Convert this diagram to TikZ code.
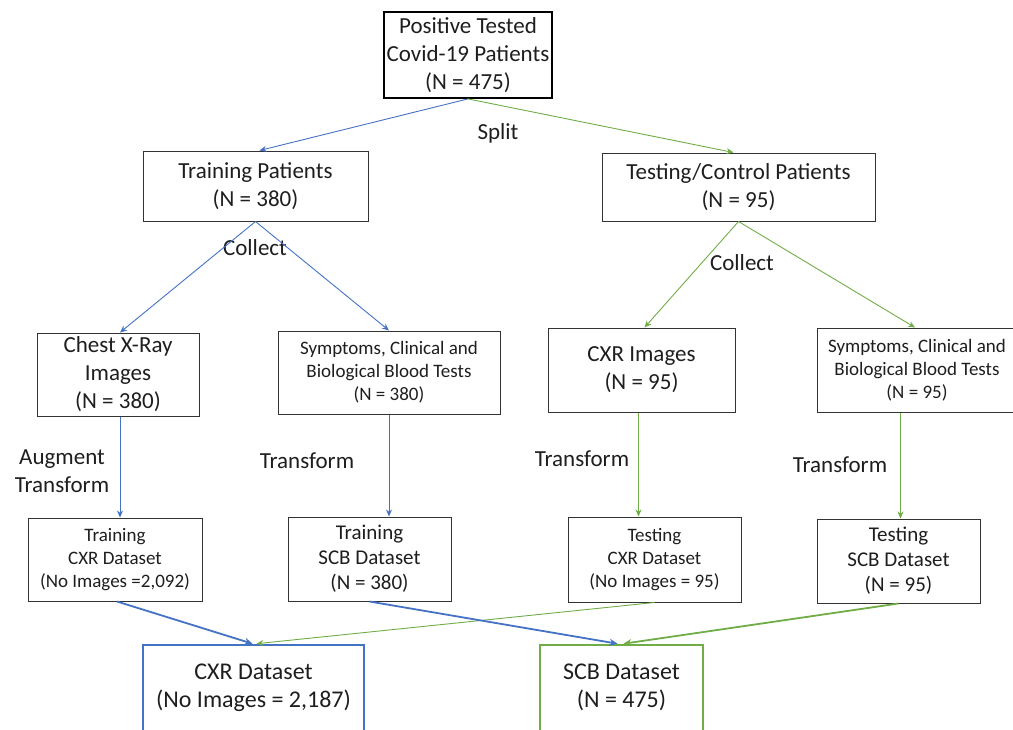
\documentclass[tikz,border=0pt]{standalone}
\usepackage{fontspec}
\setmainfont{Carlito}
\usetikzlibrary{positioning,arrows.meta}
\definecolor{flblue}{RGB}{68,114,196}
\definecolor{flgreen}{RGB}{112,173,71}
\definecolor{fltext}{RGB}{30,30,30}
\newcommand{\bigtxt}{\fontsize{23}{28}\selectfont}
\newcommand{\midtxt}{\fontsize{21}{25}\selectfont}
\newcommand{\smalltxt}{\fontsize{19}{23}\selectfont}

\tikzset{
  box/.style={draw=black!80, line width=1pt, align=center, inner sep=0pt, text=fltext},
  lbl/.style={align=center, text=fltext, font=\bigtxt},
  arr/.style={-{Stealth[length=7pt,width=6pt]}, line width=0.9pt},
  thickarr/.style={-{Stealth[length=8pt,width=7pt]}, line width=1.8pt}
}

\begin{document}
\begin{tikzpicture}[x=1pt,y=-1pt]
\useasboundingbox (0,0) rectangle (1013,729);

% Boxes
\node[box, line width=1.8pt, draw=black, minimum width=168pt, minimum height=86pt, font=\bigtxt] (patients) at (468,55) {Positive Tested\\Covid-19 Patients\\(N = 475)};
\node[box, minimum width=225pt, minimum height=70pt, font=\bigtxt] (train) at (255.5,186) {Training Patients\\(N = 380)};
\node[box, minimum width=273pt, minimum height=68pt, font=\bigtxt] (test) at (738.5,187) {Testing/Control Patients\\(N = 95)};

\node[box, minimum width=162pt, minimum height=83pt, font=\bigtxt] (xray) at (118,374.5) {Chest X-Ray\\Images\\(N = 380)};
\node[box, minimum width=222pt, minimum height=83pt, font=\smalltxt] (symtrain) at (389,372.5) {Symptoms, Clinical and\\Biological Blood Tests\\(N = 380)};
\node[box, minimum width=187pt, minimum height=84pt, font=\bigtxt] (cxrimg) at (641.5,370) {CXR Images\\(N = 95)};
\node[box, minimum width=200pt, minimum height=84pt, font=\smalltxt] (symtest) at (917,370) {Symptoms, Clinical and\\Biological Blood Tests\\(N = 95)};

\node[box, minimum width=174pt, minimum height=83pt, font=\smalltxt] (traincxr) at (115,559.5) {Training\\CXR Dataset\\(No Images =2,092)};
\node[box, minimum width=163pt, minimum height=84pt, font=\midtxt] (trainscb) at (369.5,559) {Training\\SCB Dataset\\(N = 380)};
\node[box, minimum width=173pt, minimum height=85pt, font=\smalltxt] (testcxr) at (654.5,559.5) {Testing\\CXR Dataset\\(No Images = 95)};
\node[box, minimum width=163pt, minimum height=84pt, font=\midtxt] (testscb) at (898.5,561) {Testing\\SCB Dataset\\(N = 95)};

\node[box, draw=flblue, line width=2.6pt, minimum width=221pt, minimum height=110pt, font=\fontsize{24}{28}\selectfont] (cxrdata) at (253.5,700) {CXR Dataset\\(No Images = 2,187)\\~};
\node[box, draw=flgreen, line width=2.6pt, minimum width=163pt, minimum height=110pt, font=\fontsize{24}{28}\selectfont] (scbdata) at (621.5,700) {SCB Dataset\\(N = 475)\\~};

% Labels
\node[lbl] (split) at (498,133) {Split};
\node[lbl] (collecta) at (255,248) {Collect};
\node[lbl] (collectb) at (742,263) {Collect};
\node[lbl] (augment) at (62,471) {Augment\\Transform};
\node[lbl] (transa) at (307,461) {Transform};
\node[lbl] (transb) at (582,459) {Transform};
\node[lbl] (transc) at (840,465) {Transform};

% Split and collect
\draw[arr, flblue] (patients.south) -- ([xshift=4pt]train.north);
\draw[arr, flgreen] (patients.south) -- ([xshift=-5pt]test.north);
\draw[arr, flblue] (train.south) -- ([xshift=2pt]xray.north);
\draw[arr, flblue] (train.south) -- (symtrain.north);
\draw[arr, flgreen] (test.south) -- ([xshift=3pt]cxrimg.north);
\draw[arr, flgreen] (test.south) -- ([xshift=-2pt]symtest.north);

% Transform
\draw[arr, flblue] ([xshift=2pt]xray.south) -- ([xshift=2pt]xray.south |- traincxr.north);
\draw[arr, flblue] (symtrain.south) -- (symtrain.south |- trainscb.north);
\draw[arr, flgreen] ([xshift=-3pt]cxrimg.south) -- ([xshift=-3pt]cxrimg.south |- testcxr.north);
\draw[arr, flgreen] ([xshift=2pt]testscb.north |- symtest.south) -- ([xshift=2pt]testscb.north);

% Merge
\draw[thickarr, flblue] ([xshift=2pt]traincxr.south) -- ([xshift=-1pt]cxrdata.north);
\draw[arr, flgreen] (testcxr.south) -- ([xshift=3pt]cxrdata.north);
\draw[thickarr, flblue] (trainscb.south) -- ([xshift=-4pt]scbdata.north);
\draw[thickarr, flgreen] (testscb.south) -- ([xshift=2pt]scbdata.north);
\end{tikzpicture}
\end{document}
